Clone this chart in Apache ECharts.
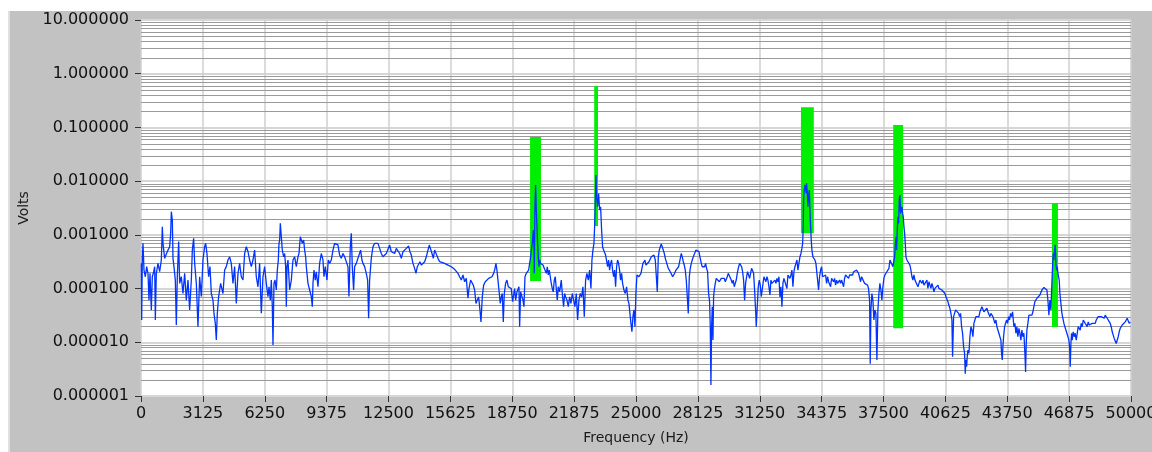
<!DOCTYPE html>
<html>
<head>
<meta charset="utf-8">
<script src="https://cdn.jsdelivr.net/npm/echarts@6/dist/echarts.min.js"></script>
<style>
html,body{margin:0;padding:0;background:#ffffff;width:1152px;height:452px;overflow:hidden;}
#bg{position:absolute;left:8px;top:11px;right:0;bottom:0;background:#c2c2c2;border-left:2px solid #e0e0e0;}
#chart{position:absolute;left:0;top:0;width:1152px;height:452px;}
</style>
</head>
<body>
<div id="bg"></div>
<div id="chart"></div>
<script>
// ---- data (Hz, Volts) ----
const seg1 = [[17,2.95e-4],[34,2.6e-5],[67,3.66e-4],[101,6.95e-4],[151,2.21e-4],[219,1.66e-4],[286,2.56e-4],[353,1.92e-4],[404,6.1e-5],[454,1.92e-4],[522,4.0e-5],[572,1.66e-4],[640,2.06e-4],[690,2.56e-4],[724,2.6e-5],[774,1.92e-4],[858,2.95e-4],[942,2.06e-4],[1027,3.4e-4],[1077,1.42e-3],[1111,6.95e-4],[1195,3.66e-4],[1279,3.9e-4],[1363,5.2e-4],[1447,6.0e-4],[1498,1.07e-3],[1532,2.7e-3],[1582,1.89e-3],[1616,3.66e-4],[1666,2.56e-4],[1733,1.44e-4],[1784,2.1e-5],[1834,1.66e-4],[1902,7.5e-4],[1952,1.25e-4],[2036,1.66e-4],[2120,8.1e-5],[2205,1.92e-4],[2289,6.1e-5],[2373,1.44e-4],[2457,4.0e-5],[2541,1.44e-4],[2592,5.2e-4],[2659,8.6e-4],[2710,2.95e-4],[2794,1.25e-4],[2878,1.95e-5],[2962,1.66e-4],[3046,7.1e-5],[3130,3.4e-4],[3214,6.0e-4],[3265,6.95e-4],[3332,4.5e-4],[3416,1.66e-4],[3484,2.56e-4],[3551,8.1e-5],[3635,6.1e-5],[3686,3.46e-5],[3753,2.25e-5],[3804,1.1e-5],[3854,3.46e-5],[3921,7.1e-5],[4022,1.25e-4],[4140,8.1e-5],[4224,2.21e-4],[4308,2.56e-4],[4393,3.4e-4],[4477,3.9e-4],[4561,2.95e-4],[4645,1.25e-4],[4729,2.56e-4],[4813,5.3e-5],[4898,1.92e-4],[4982,2.95e-4],[5066,1.66e-4],[5150,1.44e-4],[5234,4.5e-4],[5318,6.0e-4],[5402,4.9e-4],[5486,3.4e-4],[5571,2.56e-4],[5655,3.4e-4],[5739,5.2e-4],[5823,1.66e-4],[5908,1.08e-4],[5992,2.95e-4],[6076,3.46e-5],[6160,1.66e-4],[6244,2.56e-4],[6328,1.25e-4]];
const seg2 = [[6413,7.1e-5],[6464,1.08e-4],[6531,6.1e-5],[6582,1.44e-4],[6632,4.6e-5],[6666,8.9e-6],[6716,1.25e-4],[6767,1.44e-4],[6834,9.4e-5],[6885,2.21e-4],[6935,3.4e-4],[6969,6.95e-4],[7003,8.0e-4],[7036,1.64e-3],[7087,1.76e-3],[7137,5.2e-4],[7204,3.9e-4],[7255,4.5e-4],[7305,2.56e-4],[7339,4.6e-5],[7373,2.56e-4],[7423,3.4e-4],[7507,9.4e-5],[7592,1.44e-4],[7676,3.4e-4],[7760,3.9e-4],[7844,2.56e-4],[7928,3.9e-4],[7979,4.5e-4],[8046,9.2e-4],[8097,8.0e-4],[8147,6.95e-4],[8214,8.0e-4],[8265,5.2e-4],[8315,3.9e-4],[8349,2.56e-4],[8433,1.25e-4],[8517,9.4e-5],[8601,7.1e-5],[8652,4.6e-5],[8686,1.25e-4],[8736,2.21e-4],[8803,1.44e-4],[8854,2.06e-4],[8938,1.08e-4],[9022,2.95e-4],[9106,4.5e-4],[9190,3.4e-4],[9241,1.66e-4],[9308,2.56e-4],[9392,1.44e-4],[9459,3.4e-4],[9527,2.95e-4],[9611,3.4e-4],[9695,5.2e-4],[9779,6.95e-4],[9863,7.5e-4],[9947,6.5e-4],[10032,4.2e-4],[10116,3.66e-4],[10200,4.5e-4],[10284,3.9e-4],[10368,4.2e-4],[10452,2.56e-4],[10503,7.1e-5],[10570,6.0e-4],[10621,1.07e-3],[10671,2.56e-4],[10738,9.4e-5],[10789,2.56e-4],[10873,2.95e-4],[10957,3.66e-4],[11041,3.9e-4],[11092,5.2e-4],[11159,3.4e-4],[11210,2.95e-4],[11294,2.56e-4],[11378,1.92e-4],[11446,1.44e-4],[11496,2.8e-5],[11547,1.44e-4],[11631,3.66e-4],[11715,6.0e-4],[11799,6.95e-4],[11883,7.5e-4],[11967,6.95e-4],[12052,5.6e-4],[12136,4.5e-4],[12220,3.9e-4],[12304,3.66e-4],[12388,4.5e-4]];
const seg3 = [[12558,6.46e-4],[12642,4.85e-4],[12726,5.2e-4],[12811,4.5e-4],[12895,5.6e-4],[12979,5.2e-4],[13063,4.5e-4],[13147,3.65e-4],[13231,4.85e-4],[13316,5.2e-4],[13400,5.6e-4],[13517,6.19e-4],[13585,4.85e-4],[13652,4.2e-4],[13736,2.94e-4],[13820,2.38e-4],[13888,1.92e-4],[13955,2.55e-4],[14022,2.74e-4],[14090,3.16e-4],[14157,2.74e-4],[14241,2.94e-4],[14325,3.16e-4],[14409,3.9e-4],[14494,5.2e-4],[14561,6.46e-4],[14628,6.19e-4],[14696,4.5e-4],[14763,3.65e-4],[14830,5.2e-4],[14914,4.85e-4],[14999,3.65e-4],[15083,3.16e-4],[15167,3.3e-4],[15335,2.94e-4],[15503,2.74e-4],[15672,2.55e-4],[15840,2.28e-4],[16008,1.92e-4],[16092,1.66e-4],[16177,1.44e-4],[16261,1.79e-4],[16345,1.34e-4],[16429,1.55e-4],[16513,6.6e-5],[16564,1.0e-4],[16648,1.44e-4],[16715,1.55e-4],[16782,1.16e-4],[16850,9.4e-5],[16917,5.3e-5],[16984,6.1e-5],[17052,7.0e-5],[17119,4.0e-5],[17170,2.4e-5],[17237,7.0e-5],[17304,1.16e-4],[17388,1.34e-4],[17472,1.44e-4],[17557,1.55e-4],[17641,1.44e-4],[17725,1.66e-4],[17809,1.92e-4],[17860,2.21e-4],[17927,2.94e-4],[17977,2.21e-4],[18028,1.44e-4],[18078,9.4e-5],[18145,5.3e-5],[18196,7.0e-5],[18247,8.1e-5],[18297,2.4e-5],[18348,8.1e-5],[18415,1.25e-4],[18482,1.44e-4],[18550,1.08e-4],[18617,1.16e-4],[18701,1.0e-4],[18768,5.7e-5]];
const seg4 = [[18870,1.0e-4],[18921,6.1e-5],[18988,8.7e-5],[19038,8.1e-5],[19089,1.08e-4],[19123,1.95e-5],[19173,8.7e-5],[19240,9.4e-5],[19291,6.1e-5],[19341,4.6e-5],[19392,1.66e-4],[19459,1.92e-4],[19527,1.79e-4],[19577,2.21e-4],[19628,2.94e-4],[19678,3.9e-4],[19712,5.2e-4],[19762,6.9e-4],[19813,1.23e-3],[19846,6.0e-4],[19863,1.92e-4],[19897,3.34e-3],[19930,8.5e-3],[19964,2.9e-3],[19998,1.42e-3],[20031,6.9e-4],[20065,3.9e-4],[20099,2.55e-4],[20132,3.4e-4],[20183,2.94e-4],[20233,3.16e-4],[20301,2.74e-4],[20351,2.94e-4],[20402,2.21e-4],[20469,1.92e-4],[20519,2.55e-4],[20570,1.79e-4],[20620,2.21e-4],[20671,1.66e-4],[20721,1.25e-4],[20772,1.0e-4],[20822,8.7e-5],[20873,1.44e-4],[20923,1.66e-4],[20974,1.0e-4],[21024,6.1e-5],[21075,1.08e-4],[21142,8.7e-5],[21226,1.44e-4],[21277,8.1e-5],[21344,4.6e-5],[21395,8.1e-5],[21445,7.0e-5],[21512,6.1e-5],[21580,4.6e-5],[21647,7.0e-5],[21714,5.3e-5],[21782,8.1e-5],[21849,6.1e-5],[21916,4.6e-5],[21984,8.1e-5],[22051,2.6e-5],[22118,6.1e-5],[22186,8.1e-5],[22253,7.0e-5],[22320,1.08e-4],[22388,3.0e-5],[22455,1.44e-4],[22522,1.92e-4],[22590,1.44e-4],[22657,2.21e-4],[22724,1.0e-4],[22775,3.4e-4],[22825,5.2e-4],[22876,6.9e-4],[22910,1.42e-3],[22943,3.85e-3],[22977,1.3e-2],[23010,5.1e-3],[23061,3.34e-3],[23111,5.9e-3],[23162,2.9e-3],[23212,3.34e-3],[23263,1.23e-3],[23313,6.0e-4],[23364,5.2e-4],[23414,5.6e-4],[23465,4.2e-4],[23515,4.5e-4],[23566,2.55e-4],[23616,3.4e-4],[23667,2.21e-4],[23717,2.94e-4],[23768,3.4e-4],[23818,2.21e-4],[23869,1.66e-4],[23919,2.21e-4],[23970,1.08e-4],[24020,2.55e-4],[24071,3.4e-4],[24121,2.94e-4],[24172,2.21e-4],[24222,1.44e-4],[24273,1.92e-4],[24323,1.25e-4],[24390,9.4e-5],[24458,8.1e-5],[24525,1.08e-4],[24592,6.1e-5],[24643,5.3e-5],[24693,3.45e-5],[24744,2.25e-5],[24794,1.57e-5],[24845,3.0e-5],[24895,4.0e-5],[24946,1.95e-5],[24996,8.1e-5],[25047,1.79e-4]];
const seg5 = [[25149,1.66e-4],[25200,1.55e-4],[25250,1.92e-4],[25301,2.06e-4],[25351,2.94e-4],[25402,3.16e-4],[25452,3.4e-4],[25503,2.74e-4],[25553,2.94e-4],[25604,2.55e-4],[25654,3.16e-4],[25705,3.4e-4],[25772,3.9e-4],[25840,3.65e-4],[25907,4.2e-4],[25974,3.4e-4],[26025,3.16e-4],[26075,8.7e-5],[26126,3.9e-4],[26176,5.2e-4],[26227,6.0e-4],[26277,6.75e-4],[26328,6.5e-4],[26378,5.2e-4],[26429,4.5e-4],[26479,3.65e-4],[26530,3.4e-4],[26580,2.74e-4],[26631,2.38e-4],[26681,2.21e-4],[26732,2.06e-4],[26782,1.92e-4],[26849,1.66e-4],[26900,1.79e-4],[26950,1.92e-4],[27018,2.21e-4],[27085,2.38e-4],[27152,2.55e-4],[27220,3.4e-4],[27287,4.5e-4],[27337,3.9e-4],[27388,3.16e-4],[27438,2.74e-4],[27489,2.21e-4],[27539,1.44e-4],[27590,7.1e-5],[27640,3.45e-5],[27691,1.66e-4],[27741,2.38e-4],[27792,2.94e-4],[27842,3.4e-4],[27893,3.9e-4],[27960,4.5e-4],[28027,5.2e-4],[28078,5.6e-4],[28128,5.2e-4],[28179,4.86e-4],[28229,3.9e-4],[28297,2.94e-4],[28347,2.55e-4],[28398,2.74e-4],[28465,2.55e-4],[28515,2.94e-4],[28566,2.38e-4],[28616,2.06e-4],[28667,8.1e-5],[28717,5.7e-5],[28751,1.95e-5],[28785,1.6e-6],[28818,1.95e-5],[28852,4.6e-5],[28886,1.1e-5],[28919,7.1e-5],[28953,9.4e-5],[29004,1.25e-4],[29054,1.55e-4],[29105,1.44e-4],[29155,1.66e-4],[29206,1.34e-4],[29256,1.44e-4],[29307,1.55e-4],[29357,1.66e-4],[29408,1.44e-4],[29458,1.55e-4],[29509,1.34e-4],[29559,1.44e-4],[29609,1.66e-4],[29660,1.92e-4],[29710,2.06e-4],[29761,1.79e-4],[29811,1.44e-4],[29862,1.25e-4],[29912,1.44e-4],[29963,1.08e-4],[30013,1.25e-4],[30064,1.44e-4],[30114,1.92e-4],[30165,2.38e-4],[30232,2.94e-4],[30283,3.16e-4],[30333,2.55e-4],[30384,2.06e-4],[30434,1.44e-4],[30485,6.1e-5],[30535,1.25e-4],[30586,1.66e-4],[30636,2.06e-4],[30687,1.92e-4],[30737,1.55e-4],[30788,1.92e-4],[30838,2.38e-4],[30889,2.55e-4],[30939,1.92e-4],[30990,9.4e-5],[31040,4.0e-5],[31074,1.95e-5],[31124,4.6e-5],[31175,1.08e-4],[31225,1.44e-4],[31276,1.16e-4],[31326,7.1e-5]];
const seg6 = [[31461,1.66e-4],[31512,1.55e-4],[31562,1.34e-4],[31613,1.66e-4],[31663,1.44e-4],[31714,1.08e-4],[31764,7.6e-5],[31815,1.44e-4],[31865,1.25e-4],[31916,1.34e-4],[31966,1.16e-4],[32017,1.44e-4],[32067,1.25e-4],[32118,1.55e-4],[32168,1.34e-4],[32219,1.66e-4],[32269,7.0e-5],[32320,1.08e-4],[32370,4.6e-5],[32421,1.25e-4],[32471,1.55e-4],[32522,1.44e-4],[32572,1.66e-4],[32623,1.0e-4],[32673,1.79e-4],[32724,1.92e-4],[32774,1.55e-4],[32825,1.79e-4],[32875,2.21e-4],[32926,1.08e-4],[32976,2.06e-4],[33027,2.55e-4],[33077,2.94e-4],[33128,3.4e-4],[33178,2.21e-4],[33229,2.94e-4],[33279,3.9e-4],[33330,4.5e-4],[33380,5.6e-4],[33414,6.9e-4],[33447,1.42e-3],[33464,4.45e-3],[33498,6.8e-3],[33532,8.5e-3],[33565,7.3e-3],[33599,5.9e-3],[33616,9.1e-3],[33649,6.35e-3],[33683,3.34e-3],[33717,5.5e-3],[33750,6.8e-3],[33784,2.9e-3],[33818,1.42e-3],[33851,8.0e-4],[33885,5.2e-4],[33935,3.9e-4],[33986,4.2e-4],[34036,3.4e-4],[34087,2.94e-4],[34137,1.92e-4],[34188,1.79e-4],[34222,9.4e-5],[34272,1.66e-4],[34323,2.21e-4],[34373,2.55e-4],[34424,1.66e-4],[34474,1.79e-4],[34525,1.55e-4],[34575,1.79e-4],[34626,1.25e-4],[34676,1.66e-4],[34727,1.34e-4],[34777,1.44e-4],[34828,1.08e-4],[34878,1.55e-4],[34929,1.66e-4],[34979,1.34e-4],[35030,1.55e-4],[35080,1.16e-4],[35131,1.44e-4],[35181,1.25e-4],[35232,1.34e-4],[35282,1.44e-4],[35333,1.25e-4],[35383,1.44e-4],[35434,1.25e-4],[35484,1.08e-4],[35535,1.55e-4],[35585,1.79e-4],[35636,1.92e-4],[35686,1.66e-4],[35737,1.55e-4],[35787,1.79e-4],[35838,1.66e-4],[35888,1.92e-4],[35939,1.79e-4],[35989,2.06e-4],[36039,1.92e-4],[36090,2.06e-4],[36140,2.21e-4],[36191,2.38e-4],[36241,1.92e-4],[36292,1.79e-4],[36342,1.34e-4],[36393,1.66e-4],[36443,1.79e-4],[36494,1.55e-4],[36544,1.25e-4],[36595,1.16e-4],[36645,1.25e-4],[36696,1.16e-4],[36746,1.0e-4],[36797,6.1e-5],[36830,4.0e-6],[36864,4.0e-5],[36914,8.1e-5],[36965,6.1e-5],[37015,2.6e-5],[37066,4.0e-5],[37116,3.45e-5],[37167,4.7e-6],[37217,4.0e-5],[37268,8.1e-5],[37318,1.25e-4],[37369,9.4e-5],[37419,6.1e-5],[37470,1.08e-4],[37520,1.55e-4],[37571,1.79e-4],[37621,1.66e-4],[37672,1.79e-4]];
const seg7 = [[37774,2.38e-4],[37825,3.4e-4],[37875,3.16e-4],[37926,3.65e-4],[37976,2.55e-4],[38027,2.38e-4],[38061,3.9e-4],[38094,6.0e-4],[38128,9.2e-4],[38162,5.2e-4],[38195,1.23e-3],[38229,2.18e-3],[38263,1.64e-3],[38296,4.45e-3],[38330,5.5e-3],[38364,2.51e-3],[38397,2.9e-3],[38431,3.34e-3],[38465,2.51e-3],[38498,2.18e-3],[38532,1.42e-3],[38566,1.07e-3],[38599,6.95e-4],[38633,3.9e-4],[38683,3.4e-4],[38734,3.4e-4],[38784,3.16e-4],[38835,2.74e-4],[38885,2.21e-4],[38936,1.66e-4],[38986,1.44e-4],[39037,1.79e-4],[39087,1.44e-4],[39138,1.55e-4],[39188,1.34e-4],[39239,1.08e-4],[39289,1.16e-4],[39340,1.44e-4],[39390,1.55e-4],[39441,1.25e-4],[39491,1.44e-4],[39542,1.16e-4],[39592,1.08e-4],[39643,1.25e-4],[39693,1.44e-4],[39744,1.01e-4],[39794,1.34e-4],[39845,1.16e-4],[39895,1.01e-4],[39946,1.25e-4],[39996,1.08e-4],[40047,8.7e-5],[40097,1.01e-4],[40148,9.4e-5],[40198,1.08e-4],[40249,1.16e-4],[40299,1.01e-4],[40350,1.08e-4],[40400,9.4e-5],[40450,9.4e-5],[40501,8.7e-5],[40551,9.4e-5],[40602,8.1e-5],[40652,7.1e-5],[40703,6.6e-5],[40753,5.7e-5],[40804,4.9e-5],[40854,4.3e-5],[40905,3.45e-5],[40955,2.6e-5],[40989,5.4e-6],[41040,3.0e-5],[41090,3.45e-5],[41141,4.0e-5],[41191,4.3e-5],[41242,3.7e-5],[41292,3.45e-5],[41343,3.0e-5],[41393,3.45e-5],[41444,1.95e-5],[41494,1.47e-5],[41545,8.3e-6],[41595,6.2e-6],[41629,2.6e-6],[41662,4.7e-6],[41696,3.5e-6],[41730,5.4e-6],[41763,7.2e-6],[41814,6.2e-6],[41864,1.27e-5],[41915,1.95e-5],[41965,1.69e-5],[42016,1.27e-5],[42066,2.25e-5],[42117,2.6e-5],[42167,3.0e-5],[42218,2.8e-5],[42268,3.2e-5],[42319,3.0e-5],[42369,3.7e-5],[42420,4.0e-5],[42470,4.6e-5],[42521,4.3e-5],[42571,3.7e-5],[42622,4.0e-5],[42672,3.45e-5],[42723,4.3e-5],[42773,3.7e-5],[42824,3.45e-5],[42874,3.0e-5],[42925,3.45e-5],[42975,3.2e-5],[43026,3.0e-5],[43076,2.6e-5],[43127,2.25e-5],[43177,2.6e-5],[43227,1.95e-5],[43278,1.69e-5],[43328,1.47e-5],[43379,1.27e-5],[43429,1.1e-5],[43463,6.2e-6],[43497,4.7e-6],[43530,8.3e-6],[43564,1.27e-5],[43615,1.95e-5],[43665,2.25e-5],[43716,2.6e-5],[43766,2.25e-5],[43817,3.0e-5],[43867,2.6e-5],[43918,3.45e-5],[43968,3.0e-5],[44019,3.7e-5]];
const seg8 = [[44086,1.95e-5],[44137,2.25e-5],[44187,1.47e-5],[44238,1.95e-5],[44288,1.27e-5],[44339,1.82e-5],[44389,1.47e-5],[44440,1.1e-5],[44490,1.69e-5],[44541,1.27e-5],[44591,1.47e-5],[44642,6.2e-6],[44676,2.8e-6],[44709,9.5e-6],[44743,1.69e-5],[44793,2.25e-5],[44844,3.2e-5],[44894,3.0e-5],[44945,3.46e-5],[44995,3.2e-5],[45046,3.7e-5],[45096,4.6e-5],[45147,5.7e-5],[45197,6.1e-5],[45248,6.6e-5],[45298,6.1e-5],[45349,7.1e-5],[45399,7.6e-5],[45450,8.1e-5],[45500,9.4e-5],[45551,1.01e-4],[45601,1.05e-4],[45652,1.08e-4],[45702,1.01e-4],[45753,9.4e-5],[45803,6.1e-5],[45854,3.2e-5],[45904,6.1e-5],[45955,4.0e-5],[46005,1.25e-4],[46039,2.56e-4],[46072,4.5e-4],[46106,3.4e-4],[46140,5.2e-4],[46173,6.5e-4],[46207,2.95e-4],[46241,2.21e-4],[46274,2.56e-4],[46308,1.92e-4],[46342,2.06e-4],[46375,1.44e-4],[46409,8.1e-5],[46443,6.1e-5],[46476,4.6e-5],[46510,3.46e-5],[46561,2.8e-5],[46611,2.25e-5],[46661,1.95e-5],[46712,1.69e-5],[46762,1.47e-5],[46813,1.36e-5],[46863,1.1e-5],[46897,8.3e-6],[46931,3.5e-6],[46964,9.5e-6],[46998,1.47e-5],[47032,1.1e-5],[47082,1.57e-5],[47133,1.27e-5],[47183,1.47e-5],[47234,1.1e-5],[47284,1.47e-5],[47335,1.95e-5],[47385,2.1e-5],[47436,1.69e-5],[47486,2.25e-5],[47537,1.95e-5],[47587,2.6e-5],[47638,2.8e-5],[47688,2.25e-5],[47739,2.4e-5],[47789,1.95e-5],[47840,2.4e-5],[47890,2.1e-5],[47941,2.25e-5],[47991,1.95e-5],[48042,2.25e-5],[48092,2.1e-5],[48143,2.4e-5],[48193,2.25e-5],[48244,2.6e-5],[48294,2.8e-5],[48344,3.0e-5],[48395,3.2e-5],[48445,3.2e-5],[48496,3.0e-5],[48546,3.2e-5],[48597,3.0e-5],[48647,2.8e-5],[48698,3.2e-5],[48748,3.0e-5],[48799,2.8e-5],[48849,3.0e-5],[48900,2.6e-5],[48950,2.25e-5],[49001,1.95e-5],[49051,1.57e-5],[49102,1.36e-5],[49152,1.18e-5],[49203,1.1e-5],[49253,9.5e-6],[49304,1.03e-5],[49354,1.27e-5],[49405,1.57e-5],[49455,1.82e-5],[49506,1.95e-5],[49556,2.1e-5],[49607,1.95e-5],[49657,2.25e-5],[49708,2.4e-5],[49758,2.6e-5],[49809,2.8e-5],[49859,2.6e-5],[49910,2.25e-5],[49960,2.4e-5]];

// Highlighted peak bands: [fromHz, toHz, lowVolts, highVolts]
const peakBands = [
  [19650, 20200, 1.38e-4, 0.066],
  [22890, 23080, 1.46e-3, 0.59],
  [33330, 33980, 1.07e-3, 0.237],
  [37990, 38490, 1.82e-5, 0.111],
  [46010, 46310, 1.92e-5, 3.87e-3]
];

// Axis ranges / grid values
const xMin = 0, xMax = 50000, xStep = 3125;
const yMin = 1e-6, yMax = 10;
const decades = [1e-6, 1e-5, 1e-4, 1e-3, 1e-2, 1e-1, 1];
const minorSteps = [2, 3, 4, 5, 6, 7, 8, 9];

const spectrum = [].concat(seg1, seg2, seg3, seg4, seg5, seg6, seg7, seg8);
const minorLines = [];
decades.forEach(d => minorSteps.forEach(k => minorLines.push([xMin, k * d])));

const FONT = 'DejaVu Sans';
const chart = echarts.init(document.getElementById('chart'), null, { renderer: 'canvas' });
chart.setOption({
  animation: false,
  backgroundColor: 'transparent',
  grid: {
    left: 141, right: 21, top: 20, bottom: 56,
    outerBoundsMode: 'none', containLabel: false,
    show: true, backgroundColor: '#ffffff', borderWidth: 0
  },
  xAxis: {
    type: 'value', min: xMin, max: xMax, interval: xStep,
    name: 'Frequency (Hz)', nameLocation: 'middle', nameGap: 35,
    nameTextStyle: { fontFamily: FONT, fontSize: 14, color: '#1a1a1a' },
    axisLine: { show: false },
    axisTick: { show: true, length: 6, lineStyle: { color: '#333', width: 1 } },
    axisLabel: {
      show: true, fontFamily: FONT, fontSize: 16, color: '#111', margin: 10,
      showMaxLabel: true, showMinLabel: true, hideOverlap: false,
      formatter: v => String(Math.round(v))
    },
    splitLine: { show: true, lineStyle: { color: '#cfcfcf', width: 1.5 } }
  },
  yAxis: {
    type: 'log', logBase: 10, min: yMin, max: yMax,
    name: 'Volts', nameLocation: 'middle', nameGap: 108, nameRotate: 90,
    nameTextStyle: { fontFamily: FONT, fontSize: 14, color: '#1a1a1a' },
    axisLine: { show: false },
    axisTick: { show: true, length: 6, lineStyle: { color: '#333', width: 1 } },
    axisLabel: {
      fontFamily: FONT, fontSize: 16, color: '#111', margin: 12,
      formatter: v => Number(v).toFixed(6)
    },
    splitLine: { show: true, lineStyle: { color: '#d6d6d6', width: 2 } },
    minorTick: { show: false }, minorSplitLine: { show: false }
  },
  series: [
    {
      name: 'minorGrid', type: 'custom', z: 1, silent: true,
      data: minorLines,
      encode: { x: 0, y: 1 },
      renderItem: function (params, api) {
        const p = api.coord([xMin, api.value(1)]);
        const q = api.coord([xMax, api.value(1)]);
        const y = Math.round(p[1]) + 0.5;
        return {
          type: 'line',
          shape: { x1: p[0], y1: y, x2: q[0], y2: y },
          style: { stroke: '#9a9a9a', lineWidth: 1 }
        };
      }
    },
    {
      name: 'bands', type: 'custom', z: 2, silent: true,
      data: peakBands,
      encode: { x: [0, 1], y: [2, 3] },
      renderItem: function (params, api) {
        const a = api.coord([api.value(0), api.value(3)]);
        const b = api.coord([api.value(1), api.value(2)]);
        return {
          type: 'rect',
          shape: { x: a[0], y: a[1], width: b[0] - a[0], height: b[1] - a[1] },
          style: { fill: '#00ee00' }
        };
      }
    },
    {
      name: 'Volts', type: 'line', z: 3, data: spectrum,
      showSymbol: false, symbol: 'none', sampling: false,
      lineStyle: { color: '#0033ff', width: 1.3 },
      silent: true
    }
  ]
});
</script>
</body>
</html>
